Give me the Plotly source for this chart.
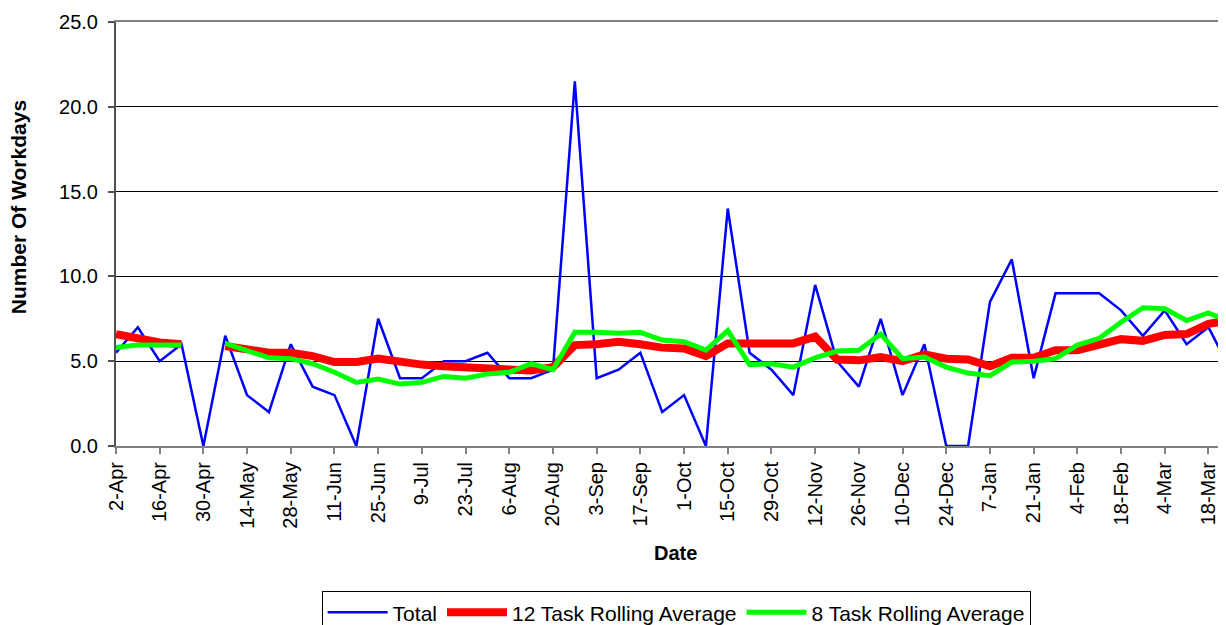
import plotly.graph_objects as go

dates = ["2-Apr", "9-Apr", "16-Apr", "23-Apr", "30-Apr", "7-May", "14-May", "21-May",
         "28-May", "4-Jun", "11-Jun", "18-Jun", "25-Jun", "2-Jul", "9-Jul", "16-Jul",
         "23-Jul", "30-Jul", "6-Aug", "13-Aug", "20-Aug", "27-Aug", "3-Sep", "10-Sep",
         "17-Sep", "24-Sep", "1-Oct", "8-Oct", "15-Oct", "22-Oct", "29-Oct", "5-Nov",
         "12-Nov", "19-Nov", "26-Nov", "3-Dec", "10-Dec", "17-Dec", "24-Dec", "31-Dec",
         "7-Jan", "14-Jan", "21-Jan", "28-Jan", "4-Feb", "11-Feb", "18-Feb", "25-Feb",
         "4-Mar", "11-Mar", "18-Mar", "25-Mar"]

total = [5.5, 7.0, 5.0, 6.0, 0.0, 6.5, 3.0, 2.0, 6.0, 3.5,
         3.0, 0.0, 7.5, 4.0, 4.0, 5.0, 5.0, 5.5, 4.0, 4.0,
         4.5, 21.5, 4.0, 4.5, 5.5, 2.0, 3.0, 0.0, 14.0, 5.5,
         4.5, 3.0, 9.5, 5.0, 3.5, 7.5, 3.0, 6.0, 0.0, 0.0,
         8.5, 11.0, 4.0, 9.0, 9.0, 9.0, 8.0, 6.5, 8.0, 6.0,
         7.0, 4.5]

avg12 = [6.6, 6.3, 6.1, 6.0, None, 5.9, 5.7, 5.5, 5.5, 5.3,
         4.95, 4.95, 5.15, 4.95, 4.8, 4.7, 4.65, 4.6, 4.45, 4.45,
         4.65, 5.95, 6.0, 6.15, 6.0, 5.8, 5.75, 5.3, 6.05, 6.05,
         6.1, 6.05, 6.45, 5.1, 5.05, 5.25, 5.0, 5.4, 5.15, 5.1,
         4.7, 5.2, 5.2, 5.65, 5.65, 5.95, 6.3, 6.2, 6.55, 6.6,
         7.2, 7.4]

avg8 = [5.8, 5.95, 5.95, 5.95, None, 6.05, 5.6, 5.2, 5.15, 4.85,
        4.35, 3.75, 3.95, 3.65, 3.75, 4.1, 4.0, 4.25, 4.35, 4.85,
        4.5, 6.7, 6.7, 6.65, 6.7, 6.25, 6.15, 5.65, 6.8, 4.8,
        4.85, 4.65, 5.2, 5.6, 5.65, 6.6, 5.15, 5.25, 4.65, 4.3,
        4.15, 4.95, 5.0, 5.15, 5.95, 6.35, 7.3, 8.15, 8.1, 7.4,
        7.85, 7.3]

tick_labels = dates[::2]
y_ticks = [0, 5, 10, 15, 20, 25]

FONT = "Liberation Sans, Arial, sans-serif"

fig = go.Figure()
fig.add_trace(go.Scatter(x=dates, y=total, mode="lines", name="Total",
                         line=dict(color="#0000FF", width=2.5)))
fig.add_trace(go.Scatter(x=dates, y=avg12, mode="lines", name="12 Task Rolling Average",
                         line=dict(color="#FF0000", width=8), connectgaps=False))
fig.add_trace(go.Scatter(x=dates, y=avg8, mode="lines", name="8 Task Rolling Average",
                         line=dict(color="#00FF00", width=5), connectgaps=False))

fig.update_layout(
    width=1226, height=625,
    margin=dict(l=108, r=0, t=14, b=187, autoexpand=False),
    paper_bgcolor="white", plot_bgcolor="white",
    font=dict(family=FONT, size=20, color="black"),
    showlegend=True,
    legend=dict(orientation="h", x=0.501, xanchor="center", y=-0.3425, yanchor="top",
                bordercolor="black", borderwidth=1, font=dict(size=21),
                itemwidth=60, tracegroupgap=0),
    annotations=[
        dict(text="<b>Date</b>", xref="paper", yref="paper", x=0.5, y=-0.252,
             showarrow=False, font=dict(size=20), xanchor="center", yanchor="middle"),
        dict(text="<b>Number Of Workdays</b>", xref="paper", yref="paper",
             x=-0.0877, y=0.563, textangle=-90, showarrow=False, font=dict(size=21),
             xanchor="center", yanchor="middle"),
    ],
)

fig.update_xaxes(
    type="category", range=[0, 51.17], automargin=False,
    tickmode="array", tickvals=tick_labels, ticktext=tick_labels,
    tickangle=-90, ticks="outside", ticklen=6, tickcolor="#808080", tickwidth=2,
    showline=True, linecolor="#808080", linewidth=2, mirror=True,
    showgrid=False, tickfont=dict(size=20),
)
fig.update_yaxes(
    range=[0, 25], automargin=False, tickmode="array", tickvals=y_ticks,
    ticktext=[f"{v:.1f}" for v in y_ticks],
    ticks="outside", ticklen=6, tickcolor="#505050", tickwidth=2,
    showline=True, linecolor="#505050", linewidth=2,
    showgrid=True, gridcolor="#000000", gridwidth=1, zeroline=False,
    tickfont=dict(size=20), ticklabelstandoff=6,
)

fig.write_html("out.html")
